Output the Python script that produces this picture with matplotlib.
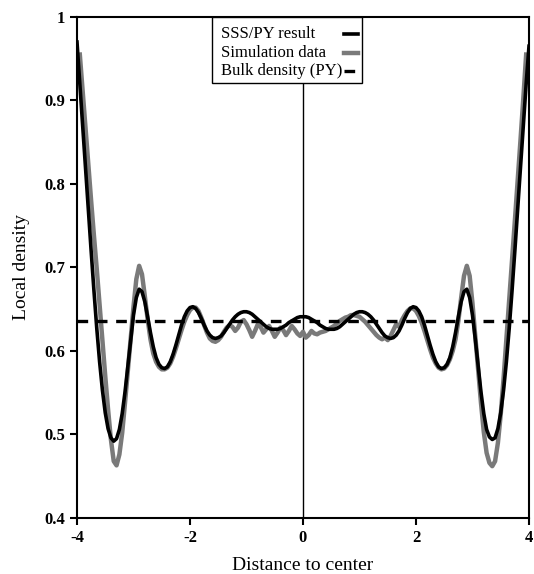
import numpy as np
import matplotlib
matplotlib.use("Agg")
import matplotlib.pyplot as plt
from matplotlib.lines import Line2D
from matplotlib.patches import Rectangle

plt.rcParams["font.family"] = ["Liberation Serif", "DejaVu Serif"]

# sample positions (distance to center), step 0.05 from -4 to 4
distance = np.round(np.linspace(-4.0, 4.0, 161), 2)

# SSS/PY result
sss_py = [
    0.970, 0.920, 0.870, 0.820, 0.770, 0.720, 0.672, 0.627, 0.587, 0.553,
    0.526, 0.507, 0.496, 0.492, 0.495, 0.506, 0.525, 0.551, 0.582, 0.614,
    0.643, 0.664, 0.674, 0.671, 0.659, 0.641, 0.622, 0.605, 0.592, 0.584,
    0.580, 0.579, 0.581, 0.587, 0.596, 0.607, 0.619, 0.631, 0.641, 0.648,
    0.652, 0.653, 0.651, 0.646, 0.639, 0.631, 0.624, 0.619, 0.616, 0.615,
    0.616, 0.618, 0.622, 0.627, 0.632, 0.637, 0.641, 0.644, 0.646, 0.647,
    0.647, 0.646, 0.644, 0.641, 0.638, 0.635, 0.632, 0.629, 0.627, 0.626,
    0.626, 0.626, 0.627, 0.629, 0.631, 0.634, 0.636, 0.638, 0.640, 0.641,
    0.641,
    0.641, 0.640, 0.638, 0.636, 0.634, 0.631, 0.629, 0.627, 0.626, 0.626,
    0.626, 0.627, 0.629, 0.632, 0.635, 0.638, 0.641, 0.644, 0.646, 0.647,
    0.647, 0.646, 0.644, 0.641, 0.637, 0.632, 0.627, 0.622, 0.618, 0.616,
    0.615, 0.616, 0.619, 0.624, 0.631, 0.639, 0.646, 0.651, 0.653, 0.652,
    0.648, 0.641, 0.631, 0.619, 0.607, 0.596, 0.587, 0.581, 0.579, 0.580,
    0.584, 0.592, 0.605, 0.622, 0.641, 0.659, 0.671, 0.674, 0.664, 0.643,
    0.614, 0.582, 0.551, 0.525, 0.506, 0.497, 0.494, 0.496, 0.507, 0.526,
    0.553, 0.587, 0.627, 0.672, 0.720, 0.770, 0.820, 0.870, 0.920, 0.965,
]

# simulation data
simulation = [
    np.nan, 0.955, 0.912, 0.868, 0.824, 0.780, 0.738, 0.698, 0.655, 0.612,
    0.570, 0.530, 0.494, 0.468, 0.463, 0.476, 0.502, 0.538, 0.576, 0.615,
    0.653, 0.686, 0.702, 0.692, 0.666, 0.638, 0.614, 0.597, 0.587, 0.581,
    0.578, 0.578, 0.580, 0.585, 0.593, 0.603, 0.614, 0.625, 0.635, 0.643,
    0.649, 0.652, 0.652, 0.648, 0.640, 0.631, 0.622, 0.615, 0.612, 0.611,
    0.613, 0.617, 0.623, 0.628, 0.631, 0.629, 0.624, 0.628, 0.635, 0.637,
    0.632, 0.625, 0.617, 0.624, 0.632, 0.629, 0.622, 0.626, 0.630, 0.624,
    0.617, 0.622, 0.628, 0.625, 0.619, 0.624, 0.630, 0.626, 0.621, 0.618,
    0.623,
    0.616, 0.619, 0.624, 0.621, 0.620, 0.622, 0.623, 0.624, 0.626, 0.628,
    0.630, 0.633, 0.636, 0.638, 0.640, 0.641, 0.643, 0.643, 0.642, 0.641,
    0.638, 0.635, 0.631, 0.627, 0.623, 0.619, 0.616, 0.614, 0.616, 0.613,
    0.618, 0.625, 0.632, 0.629, 0.637, 0.643, 0.648, 0.651, 0.651, 0.648,
    0.642, 0.634, 0.624, 0.613, 0.602, 0.592, 0.585, 0.580, 0.578, 0.579,
    0.583, 0.590, 0.600, 0.614, 0.636, 0.664, 0.690, 0.702, 0.690, 0.657,
    0.617, 0.576, 0.538, 0.503, 0.478, 0.466, 0.462, 0.468, 0.490, 0.524,
    0.567, 0.614, 0.661, 0.708, 0.756, 0.804, 0.853, 0.903, 0.955, np.nan,
]

bulk_density = 0.636

x_ticks = [-4, -2, 0, 2, 4]
y_ticks = [0.4, 0.5, 0.6, 0.7, 0.8, 0.9, 1.0]
y_tick_labels = ["0.4", "0.5", "0.6", "0.7", "0.8", "0.9", "1"]
legend_labels = ["SSS/PY result", "Simulation data", "Bulk density (PY)"]

SIM_STYLE = dict(color="#7a7a7a", lw=3.2)
SSS_STYLE = dict(color="black", lw=2.6)
BULK_STYLE = dict(color="black", lw=2.4, ls=(0, (3.2, 2.6)))

fig = plt.figure(figsize=(5.34, 5.74), dpi=100)
ax = fig.add_axes([0.1442, 0.0976, 0.8464, 0.8728])

ax.axvline(0, color="black", lw=1.0, zorder=1)
ax.plot(distance, simulation, zorder=2, **SIM_STYLE)
ax.plot(distance, sss_py, zorder=3, **SSS_STYLE)
ax.axhline(bulk_density, zorder=4, **BULK_STYLE)

ax.set_xlim(-4, 4)
ax.set_ylim(0.4, 1.0)
ax.set_xticks(x_ticks)
ax.set_xticklabels([str(t) for t in x_ticks])
ax.set_yticks(y_ticks)
ax.set_yticklabels(y_tick_labels)
ax.tick_params(direction="out", length=5, width=1.5, labelsize=12, top=False, right=False)
for lbl in ax.get_xticklabels() + ax.get_yticklabels():
    lbl.set_fontweight("bold")
for spine in ax.spines.values():
    spine.set_linewidth(1.5)

ax.set_xlabel("Distance to center", fontsize=14, labelpad=8)
ax.set_ylabel("Local density", fontsize=14, labelpad=10)

# legend drawn as a small table: text left, line sample right
ax.add_patch(Rectangle((0.299, 0.868), 0.332, 0.132, transform=ax.transAxes,
                       facecolor="white", edgecolor="black", lw=1.0, zorder=5))
row_y = [0.966, 0.929, 0.893]
styles = [SSS_STYLE, SIM_STYLE, BULK_STYLE]
for label, y, style in zip(legend_labels, row_y, styles):
    ax.text(0.318, y, label, transform=ax.transAxes, fontsize=12, va="center", ha="left", zorder=6)
    ax.add_line(Line2D([0.590, 0.622], [y, y], transform=ax.transAxes, zorder=6, **style))

fig.savefig("out.png", dpi=100)
